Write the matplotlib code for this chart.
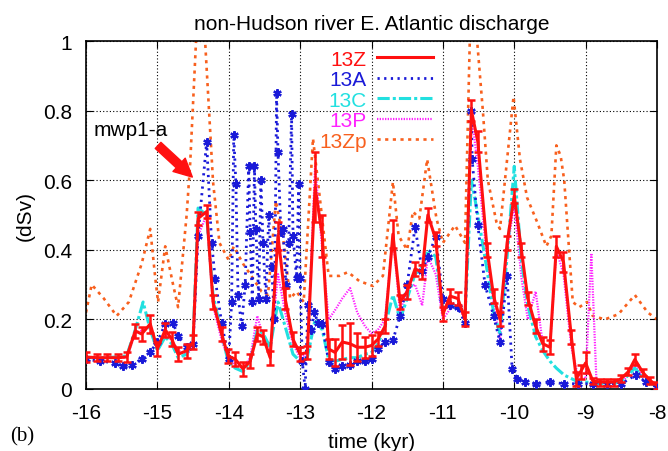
import numpy as np
import matplotlib
matplotlib.use("Agg")
import matplotlib.pyplot as plt

plt.rcParams['font.family'] = ['Liberation Sans', 'DejaVu Sans']
plt.rcParams['axes.unicode_minus'] = False

# 13Z (with error bars)
x_13z = [-16.0, -15.85, -15.7, -15.55, -15.43, -15.31, -15.22, -15.1, -15.0, -14.89, -14.8, -14.71,
         -14.59, -14.5, -14.43, -14.31, -14.22, -14.1, -14.01, -13.91, -13.8, -13.7, -13.6, -13.52,
         -13.42, -13.31, -13.21, -13.1, -13.0, -12.9, -12.79, -12.69, -12.6, -12.51, -12.41, -12.3,
         -12.2, -12.09, -12.0, -11.91, -11.81, -11.7, -11.6, -11.5, -11.39, -11.29, -11.21, -11.1,
         -11.0, -10.9, -10.79, -10.69, -10.6, -10.51, -10.38, -10.29, -10.2, -10.1, -10.0, -9.9,
         -9.81, -9.7, -9.6, -9.5, -9.41, -9.31, -9.2, -9.13, -9.07, -9.0, -8.9, -8.8, -8.7, -8.6,
         -8.5, -8.4, -8.31, -8.2, -8.1, -8.0]
y_13z = [0.092, 0.09, 0.09, 0.09, 0.092, 0.167, 0.158, 0.187, 0.115, 0.17, 0.144, 0.10,
         0.11, 0.135, 0.49, 0.51, 0.25, 0.158, 0.095, 0.086, 0.058, 0.08, 0.158, 0.15,
         0.09, 0.44, 0.26, 0.143, 0.10, 0.105, 0.58, 0.44, 0.115, 0.105, 0.135, 0.13,
         0.12, 0.12, 0.125, 0.143, 0.18, 0.445, 0.25, 0.28, 0.345, 0.336, 0.50, 0.43,
         0.215, 0.267, 0.26, 0.2, 0.80, 0.71, 0.40, 0.267, 0.20, 0.42, 0.555, 0.40,
         0.26, 0.18, 0.13, 0.12, 0.41, 0.365, 0.15, 0.03, 0.05, 0.075, 0.023, 0.02, 0.02, 0.02,
         0.03, 0.05, 0.085, 0.048, 0.025, 0.01]
e_13z = [0.015, 0.01, 0.01, 0.01, 0.015, 0.02, 0.02, 0.025, 0.02, 0.02, 0.02, 0.02,
         0.02, 0.02, 0.02, 0.02, 0.02, 0.02, 0.02, 0.02, 0.02, 0.02, 0.02, 0.02,
         0.02, 0.04, 0.03, 0.02, 0.02, 0.02, 0.1, 0.06, 0.03, 0.04, 0.05, 0.06,
         0.04, 0.03, 0.03, 0.02, 0.02, 0.04, 0.02, 0.02, 0.02, 0.02, 0.02, 0.02,
         0.02, 0.02, 0.02, 0.02, 0.03, 0.03, 0.02, 0.02, 0.02, 0.02, 0.02, 0.02,
         0.02, 0.02, 0.02, 0.02, 0.03, 0.03, 0.02, 0.02, 0.02, 0.03, 0.01, 0.01, 0.01, 0.01,
         0.01, 0.01, 0.015, 0.01, 0.01, 0.01]

# 13A
x_13a = [-16.0, -15.8, -15.6, -15.48, -15.35, -15.22, -15.1, -15.0, -14.89, -14.78, -14.71,
         -14.59, -14.5, -14.43, -14.31, -14.24, -14.19, -14.1, -14.0, -13.96, -13.93, -13.9,
         -13.87, -13.82, -13.77, -13.72, -13.7, -13.67, -13.64, -13.62, -13.58, -13.55, -13.52,
         -13.48, -13.44, -13.4, -13.36, -13.33, -13.31, -13.27, -13.24, -13.2, -13.16, -13.12,
         -13.1, -13.05, -13.02, -13.0, -12.97, -12.93, -12.89, -12.85, -12.8, -12.75, -12.69,
         -12.6, -12.51, -12.41, -12.3, -12.2, -12.09, -12.0, -11.91, -11.81, -11.7, -11.6,
         -11.5, -11.39, -11.29, -11.21, -11.1, -11.0, -10.9, -10.79, -10.69, -10.6, -10.59,
         -10.51, -10.41, -10.29, -10.2, -10.1, -10.03, -9.96, -9.85, -9.7, -9.5, -9.3, -9.1,
         -8.9, -8.7, -8.5, -8.3, -8.15, -8.0]
y_13a = [0.085, 0.08, 0.075, 0.066, 0.07, 0.086, 0.106, 0.135, 0.187, 0.19, 0.152,
         0.12, 0.13, 0.44, 0.71, 0.42, 0.316, 0.19, 0.086, 0.25, 0.73, 0.59,
         0.27, 0.18, 0.30, 0.64, 0.45, 0.25, 0.64, 0.46, 0.26, 0.60, 0.42,
         0.26, 0.50, 0.35, 0.20, 0.85, 0.68, 0.45, 0.46, 0.30, 0.42, 0.79,
         0.44, 0.32, 0.59, 0.32, 0.08, 0.0, 0.24, 0.17, 0.22, 0.19, 0.187,
         0.078, 0.058, 0.066, 0.07, 0.08, 0.08, 0.085, 0.115, 0.135, 0.14, 0.21,
         0.30, 0.465, 0.34, 0.38, 0.437, 0.26, 0.24, 0.235, 0.19, 0.80, 0.66,
         0.47, 0.30, 0.21, 0.135, 0.325, 0.058, 0.03, 0.02, 0.015, 0.02, 0.015, 0.015,
         0.015, 0.015, 0.015, 0.04, 0.02, 0.005]

# 13C
x_13c = [-16.0, -15.7, -15.43, -15.31, -15.2, -15.1, -15.0, -14.89, -14.8, -14.71, -14.59,
         -14.5, -14.43, -14.31, -14.22, -14.1, -14.01, -13.91, -13.8, -13.7, -13.6, -13.52,
         -13.42, -13.31, -13.21, -13.1, -13.0, -12.9, -12.79, -12.69, -12.6, -12.51, -12.41,
         -12.3, -12.2, -12.09, -12.0, -11.91, -11.81, -11.7, -11.6, -11.5, -11.39, -11.29,
         -11.21, -11.1, -11.0, -10.9, -10.79, -10.69, -10.6, -10.51, -10.38, -10.29, -10.2,
         -10.1, -10.0, -9.9, -9.81, -9.7, -9.6, -9.5, -9.41, -9.3, -9.2, -9.1, -9.0, -8.8,
         -8.6, -8.45, -8.31, -8.2, -8.1, -8.0]
y_13c = [0.09, 0.09, 0.095, 0.17, 0.25, 0.17, 0.11, 0.15, 0.13, 0.09, 0.10,
         0.14, 0.52, 0.50, 0.27, 0.16, 0.08, 0.06, 0.05, 0.08, 0.17, 0.16,
         0.12, 0.25, 0.18, 0.10, 0.08, 0.09, 0.20, 0.17, 0.085, 0.08, 0.085,
         0.09, 0.09, 0.10, 0.105, 0.13, 0.18, 0.27, 0.20, 0.26, 0.33, 0.35,
         0.40, 0.38, 0.23, 0.24, 0.23, 0.21, 0.60, 0.50, 0.34, 0.22, 0.16,
         0.38, 0.64, 0.37, 0.24, 0.15, 0.11, 0.08, 0.06, 0.04, 0.03, 0.02, 0.02, 0.015,
         0.015, 0.03, 0.06, 0.035, 0.015, 0.01]

# 13P
x_13p = [-16.0, -15.43, -15.31, -15.2, -15.1, -15.0, -14.89, -14.8, -14.71, -14.59, -14.5,
         -14.43, -14.31, -14.22, -14.1, -14.01, -13.91, -13.8, -13.7, -13.6, -13.52, -13.42,
         -13.31, -13.21, -13.1, -13.0, -12.9, -12.79, -12.69, -12.6, -12.5, -12.41, -12.3,
         -12.2, -12.09, -12.0, -11.91, -11.81, -11.7, -11.6, -11.5, -11.39, -11.29, -11.21,
         -11.1, -11.0, -10.9, -10.79, -10.69, -10.6, -10.51, -10.38, -10.29, -10.2, -10.1,
         -10.0, -9.9, -9.81, -9.7, -9.6, -9.5, -9.41, -9.31, -9.2, -9.1, -9.0, -8.92, -8.85,
         -8.8, -8.6, -8.45, -8.31, -8.2, -8.1, -8.0]
y_13p = [0.09, 0.09, 0.16, 0.17, 0.18, 0.12, 0.16, 0.14, 0.11, 0.10, 0.12,
         0.44, 0.50, 0.24, 0.14, 0.09, 0.07, 0.06, 0.09, 0.21, 0.15, 0.10,
         0.33, 0.22, 0.13, 0.09, 0.10, 0.64, 0.40, 0.20, 0.23, 0.26, 0.29,
         0.22, 0.18, 0.16, 0.17, 0.20, 0.44, 0.22, 0.29, 0.30, 0.24, 0.38,
         0.33, 0.20, 0.23, 0.24, 0.20, 0.79, 0.64, 0.37, 0.25, 0.14, 0.40,
         0.53, 0.32, 0.20, 0.28, 0.13, 0.12, 0.40, 0.33, 0.12, 0.03, 0.03, 0.39, 0.03,
         0.02, 0.02, 0.03, 0.07, 0.04, 0.02, 0.01]

# 13Zp
x_13zp = [-16.0, -15.92, -15.75, -15.57, -15.4, -15.22, -15.1, -15.03, -14.99, -14.89, -14.78,
          -14.71, -14.59, -14.54, -14.4, -14.22, -14.13, -14.0, -13.93, -13.8, -13.7, -13.54,
          -13.45, -13.34, -13.23, -13.14, -13.05, -12.95, -12.82, -12.73, -12.6, -12.45, -12.33,
          -12.17, -11.98, -11.84, -11.7, -11.62, -11.5, -11.42, -11.33, -11.22, -11.09, -11.0,
          -10.83, -10.69, -10.6, -10.44, -10.37, -10.25, -10.2, -10.13, -10.01, -9.92, -9.82,
          -9.68, -9.55, -9.48, -9.41, -9.35, -9.3, -9.22, -9.18, -9.09, -8.98, -8.9, -8.73,
          -8.54, -8.31, -8.13, -8.0]
y_13zp = [0.22, 0.30, 0.26, 0.21, 0.25, 0.36, 0.46, 0.32, 0.25, 0.41, 0.30,
          0.235, 0.50, 0.65, 1.25, 0.595, 0.42, 0.37, 0.41, 0.36, 0.33, 0.28,
          0.27, 0.54, 0.42, 0.26, 0.28, 0.25, 0.72, 0.56, 0.325, 0.325, 0.336,
          0.31, 0.296, 0.325, 0.595, 0.44, 0.40, 0.51, 0.49, 0.66, 0.49, 0.42,
          0.47, 0.42, 1.2, 0.80, 0.60, 0.48, 0.46, 0.60, 0.84, 0.66, 0.55,
          0.48, 0.41, 0.44, 0.70, 0.67, 0.60, 0.365, 0.25, 0.235, 0.25, 0.21, 0.20,
          0.215, 0.27, 0.22, 0.20]

labels = ['13Z', '13A', '13C', '13P', '13Zp']
colors = ['#ff1010', '#1a1ad8', '#22e0e0', '#ff22ff', '#f8601e']
x_ticks = [-16, -15, -14, -13, -12, -11, -10, -9, -8]
y_ticks = [0, 0.2, 0.4, 0.6, 0.8, 1]
y_ticklabels = ['0', '0.2', '0.4', '0.6', '0.8', '1']

fs = 15
fig = plt.figure(figsize=(6.68, 4.52), dpi=100)
ax = fig.add_axes([86 / 668, 62 / 452, 571 / 668, 348 / 452])

ax.plot(x_13zp, y_13zp, color=colors[4], lw=1.9, ls=(0, (1.2, 1.7)), label=labels[4], zorder=2)
ax.plot(x_13p, y_13p, color=colors[3], lw=1.6, ls=(0, (0.6, 0.6)), label=labels[3], zorder=3)
ax.plot(x_13c, y_13c, color=colors[2], lw=2.2, ls=(0, (4, 1, 1, 1)), label=labels[2], zorder=3)
ax.plot(x_13a, y_13a, color=colors[1], lw=2, ls=(0, (0.8, 1.6)), label=labels[1], zorder=4)
ax.plot(x_13a, y_13a, color=colors[1], lw=0, marker=(6, 2, 0), ms=6, mew=1.6, zorder=4)
ax.plot(x_13z, y_13z, color=colors[0], lw=2.2, label=labels[0], zorder=5)
ax.errorbar(x_13z, y_13z, yerr=e_13z, fmt='none', ecolor=colors[0], elinewidth=1.8,
            capsize=3, capthick=1.8, zorder=5)

ax.set_xlim(-16, -8)
ax.set_ylim(0, 1)
ax.set_xticks(x_ticks)
ax.set_yticks(y_ticks)
ax.set_yticklabels(y_ticklabels)
ax.tick_params(direction='in', top=True, right=True, length=5, labelsize=fs, pad=10)
ax.grid(True, color='black', ls=(0, (1, 2)), lw=0.8)
for s in ax.spines.values():
    s.set_linewidth(1.2)

ax.set_title('non-Hudson river E. Atlantic discharge', fontsize=fs, pad=9)
ax.set_xlabel('time (kyr)', fontsize=fs, labelpad=7)
ax.set_ylabel('(dSv)', fontsize=fs, labelpad=6)
fig.text(10 / 668, 1 - 437 / 452, '(b)', fontsize=fs, family=['Liberation Serif', 'DejaVu Serif'],
         va='center', ha='left')

ax.text(-15.9, 0.745, 'mwp1-a', fontsize=fs, va='center', ha='left')
ax.annotate('', xy=(-14.51, 0.609), xytext=(-14.99, 0.70),
            arrowprops=dict(facecolor='#ff1010', edgecolor='#ff1010', width=6, headwidth=13,
                            headlength=13, shrink=0))

h, l = ax.get_legend_handles_labels()
order = [l.index(k) for k in labels]
leg = ax.legend([h[i] for i in order], [l[i] for i in order], loc='upper right',
                bbox_to_anchor=((433 - 86) / 571, 0.975), frameon=False,
                markerfirst=False, labelcolor='linecolor', fontsize=fs, handlelength=2.7,
                handletextpad=0.48, labelspacing=0.07, borderpad=0, borderaxespad=0)

fig.savefig('out.png', dpi=100)
